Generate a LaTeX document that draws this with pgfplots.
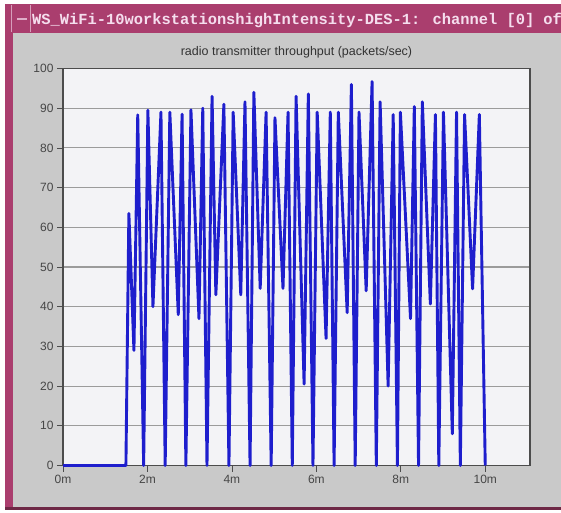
\documentclass[border=0pt]{standalone}
\usepackage{fontspec}
\setmainfont{Liberation Sans}
\newfontfamily\monofont{Liberation Mono}
\usepackage{pgfplots}
\pgfplotsset{compat=1.18}
\definecolor{frame}{RGB}{170,62,110}
\definecolor{framedark}{RGB}{110,40,70}
\definecolor{titletext}{RGB}{245,222,238}
\definecolor{bodygray}{RGB}{201,201,201}
\definecolor{plotbg}{RGB}{243,243,246}
\definecolor{gridgray}{RGB}{155,155,155}
\definecolor{lineblue}{RGB}{30,30,205}
\definecolor{labelgray}{RGB}{70,70,70}
\begin{document}
\begin{tikzpicture}
\useasboundingbox (0pt,0pt) rectangle (561pt,512pt);
\fill[white] (0pt,0pt) rectangle (561pt,512pt);
\fill[framedark] (5pt,2pt) rectangle (561pt,6pt);
\fill[frame] (5pt,5pt) rectangle (561pt,508pt);
\fill[bodygray] (13pt,5pt) rectangle (561pt,479pt);
\draw[titletext!60!frame, line width=0.6pt] (11pt,480pt) -- (11pt,507pt);
\draw[titletext!60!frame, line width=0.6pt] (30pt,480pt) -- (30pt,507pt);
\fill[titletext!70!frame] (17pt,491.5pt) rectangle (27pt,494pt);
\node[anchor=west, inner sep=0pt, text=titletext, font=\monofont\bfseries\fontsize{15.4}{16}\selectfont] at (32pt,491.5pt) {WS\_WiFi-10workstationshighIntensity-DES-1: channel [0] of};
\begin{axis}[
  at={(63pt,46.5pt)}, anchor=south west,
  scale only axis, width=467pt, height=397pt,
  xmin=0, xmax=11.06, ymin=0, ymax=100,
  axis background/.style={fill=plotbg},
  axis line style={black!70, line width=1.2pt},
  ymajorgrids, grid style={gridgray, line width=1.1pt},
  xtick={0,2,4,6,8,10},
  xticklabels={0m,2m,4m,6m,8m,10m},
  ytick={0,10,...,100},
  tick align=outside, major tick length=6pt,
  xtick pos=bottom, ytick pos=left,
  tick style={black!70, line width=0.8pt},
  tick label style={font=\fontsize{12}{13}\selectfont, text=labelgray},
  /pgf/number format/assume math mode=true,
  title={radio transmitter throughput (packets/sec)},
  title style={at={(0.5,1)}, anchor=center, yshift=10pt, font=\fontsize{12.5}{14}\selectfont, text=black!80},
  clip=false,
]
\addplot[lineblue, line width=2.9pt, line join=round] coordinates {
(0,0) (1.49,0) (1.56,63.5) (1.68,29) (1.77,88.3) (1.91,0)
(2.01,89.5) (2.13,40) (2.32,89) (2.42,0)
(2.53,89) (2.73,38) (2.82,88.5) (2.91,0)
(3.03,89.6) (3.22,37) (3.31,90) (3.41,0)
(3.53,93) (3.62,43) (3.81,91) (3.93,0)
(4.03,89) (4.21,43) (4.31,91.6) (4.43,0)
(4.52,94) (4.67,44.6) (4.81,89) (4.93,0)
(5.02,87.6) (5.21,44.6) (5.33,89) (5.43,0)
(5.52,93) (5.71,20.5) (5.81,93.6) (5.92,0)
(6.02,89) (6.23,32) (6.33,89) (6.42,0)
(6.52,89) (6.73,38.5) (6.83,96) (6.92,0)
(7.01,89) (7.18,44) (7.32,96.7) (7.42,0)
(7.51,91.6) (7.70,20) (7.82,88.4) (7.92,0)
(7.99,89) (8.23,37) (8.32,90.4) (8.42,0)
(8.51,91.6) (8.70,40.7) (8.82,88.4) (8.90,0)
(9.01,89) (9.22,8) (9.32,89) (9.41,0)
(9.51,88.4) (9.70,44.5) (9.86,88.4) (10.0,0)
};
\end{axis}
\end{tikzpicture}
\end{document}
